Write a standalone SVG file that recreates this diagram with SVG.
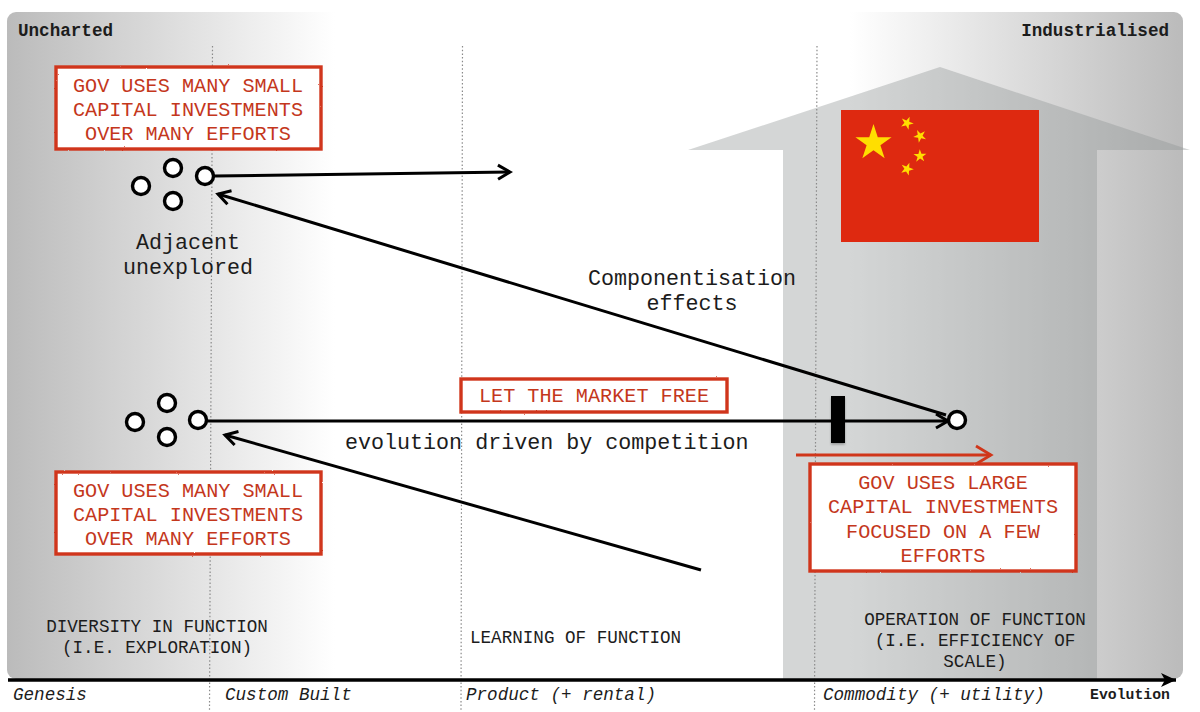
<svg xmlns="http://www.w3.org/2000/svg" width="1200" height="712" viewBox="0 0 1200 712">
<style>
text{font-family:"Liberation Mono","DejaVu Sans Mono",monospace;fill:#1c1c1c}
.s{font-size:17.6px}
.l{font-size:21.7px}
.m{text-anchor:middle}
.i{font-style:italic}
.b{font-weight:bold}
.r{font-size:20.2px;fill:#c4371c;text-anchor:middle}
.box{fill:#fff;stroke:#d0361a;stroke-width:3.4;filter:url(#rough)}
.dot{fill:#fff;stroke:#000;stroke-width:3.4}
.v{stroke:#8a8a8a;stroke-width:1.2;stroke-dasharray:1.5 2.2;fill:none}
.c{stroke:#000;stroke-width:3;fill:none}
</style>
<defs>
<linearGradient id="gl" x1="0" x2="1" y1="0" y2="0"><stop offset="0" stop-color="#bbb"/><stop offset="1" stop-color="#fff"/></linearGradient>
<linearGradient id="gr" x1="0" x2="1" y1="0" y2="0"><stop offset="0" stop-color="#fff"/><stop offset="1" stop-color="#bbb"/></linearGradient>
<marker id="open" markerUnits="userSpaceOnUse" markerWidth="22" markerHeight="22" refX="16" refY="11" orient="auto"><path d="M4 4L16 11L4 18" fill="none" stroke="#000" stroke-width="3"/></marker>
<marker id="solid" markerUnits="userSpaceOnUse" markerWidth="22" markerHeight="22" refX="16" refY="11" orient="auto"><path d="M1 4L16 11L1 18L5 11Z" fill="#000"/></marker>
<marker id="red" markerUnits="userSpaceOnUse" markerWidth="24" markerHeight="24" refX="19" refY="12" orient="auto"><path d="M4 3L19 12L4 21" fill="none" stroke="#d0361a" stroke-width="2.8"/></marker>
<filter id="rough" x="-5%" y="-10%" width="110%" height="120%"><feTurbulence type="fractalNoise" baseFrequency="0.5" numOctaves="2" seed="3"/><feDisplacementMap in="SourceGraphic" scale="1.8"/></filter>
<filter id="sh" x="-50%" y="-20%" width="200%" height="140%"><feDropShadow dx="0" dy="1.5" stdDeviation="1.2" flood-color="#000" flood-opacity="0.3"/></filter>
<clipPath id="bg"><rect x="7" y="12" width="1176" height="667" rx="9"/></clipPath>
<polygon id="star" points="0,-1 0.2245,-0.309 0.951,-0.309 0.363,0.118 0.588,0.809 0,0.382 -0.588,0.809 -0.363,0.118 -0.951,-0.309 -0.2245,-0.309"/>
</defs>

<g id="background">
<g clip-path="url(#bg)">
<rect x="7" y="12" width="328" height="667" fill="url(#gl)"/>
<rect x="850" y="12" width="333" height="667" fill="url(#gr)"/>
</g>
<path id="house" d="M940 67L1190 150H1097V679H783V150H688Z" fill="#8f9494" fill-opacity="0.38"/>
</g>

<g id="flag">
<rect x="841" y="110" width="198" height="132" fill="#de2910"/>
<g fill="#ffde00">
<use href="#star" transform="translate(873.500 143) scale(19)"/>
<use href="#star" transform="translate(907 123) rotate(23) scale(6.800)"/>
<use href="#star" transform="translate(920 136) rotate(46) scale(6.800)"/>
<use href="#star" transform="translate(920 156) rotate(70) scale(6.800)"/>
<use href="#star" transform="translate(907 169) rotate(21) scale(6.800)"/>
</g>
</g>

<g id="phase-lines">
<path class="v" d="M212.500 46L209.500 710"/>
<path class="v" d="M462.500 46L461 710"/>
<path class="v" d="M817 46L814.500 710"/>
</g>

<g id="connectors">
<path class="c" d="M214 176L510 172" marker-end="url(#open)"/>
<path class="c" d="M946 415L218 194" marker-end="url(#open)"/>
<path class="c" d="M207 421L948 421" marker-end="url(#open)"/>
<path class="c" d="M701 570L225 435" marker-end="url(#open)"/>
<path d="M796 455L991 455" fill="none" stroke="#d0361a" stroke-width="2.800" marker-end="url(#red)"/>
<path d="M8 680L1176 680" fill="none" stroke="#000" stroke-width="3.400" marker-end="url(#solid)"/>
</g>

<g id="inertia-bar"><rect x="831" y="396" width="14" height="47" fill="#000" filter="url(#sh)"/></g>

<g id="cluster-top">
<circle class="dot" cx="141" cy="186" r="8.500"/>
<circle class="dot" cx="173" cy="168" r="8.500"/>
<circle class="dot" cx="173" cy="201" r="8.500"/>
<circle class="dot" cx="205" cy="176" r="8.500"/>
</g>
<g id="cluster-bottom">
<circle class="dot" cx="135" cy="422" r="8.500"/>
<circle class="dot" cx="167" cy="403" r="8.500"/>
<circle class="dot" cx="167" cy="437" r="8.500"/>
<circle class="dot" cx="198" cy="420" r="8.500"/>
</g>
<g id="node-right"><circle class="dot" cx="957" cy="420" r="8.500"/></g>

<g id="box-top">
<rect class="box" x="56" y="67" width="265" height="82"/>
<text class="r" x="188" y="92">GOV USES MANY SMALL</text>
<text class="r" x="188" y="116">CAPITAL INVESTMENTS</text>
<text class="r" x="188" y="140">OVER MANY EFFORTS</text>
</g>
<g id="box-bottom">
<rect class="box" x="56" y="472" width="265" height="82"/>
<text class="r" x="188" y="497">GOV USES MANY SMALL</text>
<text class="r" x="188" y="521">CAPITAL INVESTMENTS</text>
<text class="r" x="188" y="545">OVER MANY EFFORTS</text>
</g>
<g id="box-market">
<rect class="box" x="461" y="379" width="266" height="33"/>
<text class="r" x="594" y="402">LET THE MARKET FREE</text>
</g>
<g id="box-large">
<rect class="box" x="810" y="464" width="266" height="107"/>
<text class="r" x="943" y="489">GOV USES LARGE</text>
<text class="r" x="943" y="513">CAPITAL INVESTMENTS</text>
<text class="r" x="943" y="538">FOCUSED ON A FEW</text>
<text class="r" x="943" y="562">EFFORTS</text>
</g>

<g id="labels">
<text class="s b" x="18" y="36">Uncharted</text>
<text class="s b" x="1169" y="36" text-anchor="end">Industrialised</text>
<text class="l m" x="188" y="249">Adjacent</text>
<text class="l m" x="188" y="274">unexplored</text>
<text class="l m" x="692" y="285">Componentisation</text>
<text class="l m" x="692" y="310">effects</text>
<text class="l" x="345" y="449">evolution driven by competition</text>
<text class="s m" x="157" y="632">DIVERSITY IN FUNCTION</text>
<text class="s m" x="157" y="653">(I.E. EXPLORATION)</text>
<text class="s" x="470" y="643">LEARNING OF FUNCTION</text>
<text class="s m" x="975" y="625">OPERATION OF FUNCTION</text>
<text class="s m" x="975" y="646">(I.E. EFFICIENCY OF</text>
<text class="s m" x="975" y="667">SCALE)</text>
<text class="s i" x="13" y="700">Genesis</text>
<text class="s i" x="225" y="700">Custom Built</text>
<text class="s i" x="466" y="700">Product (+ rental)</text>
<text class="s i" x="823" y="700">Commodity (+ utility)</text>
<text class="b" x="1090" y="699" font-size="14.800">Evolution</text>
</g>
</svg>
